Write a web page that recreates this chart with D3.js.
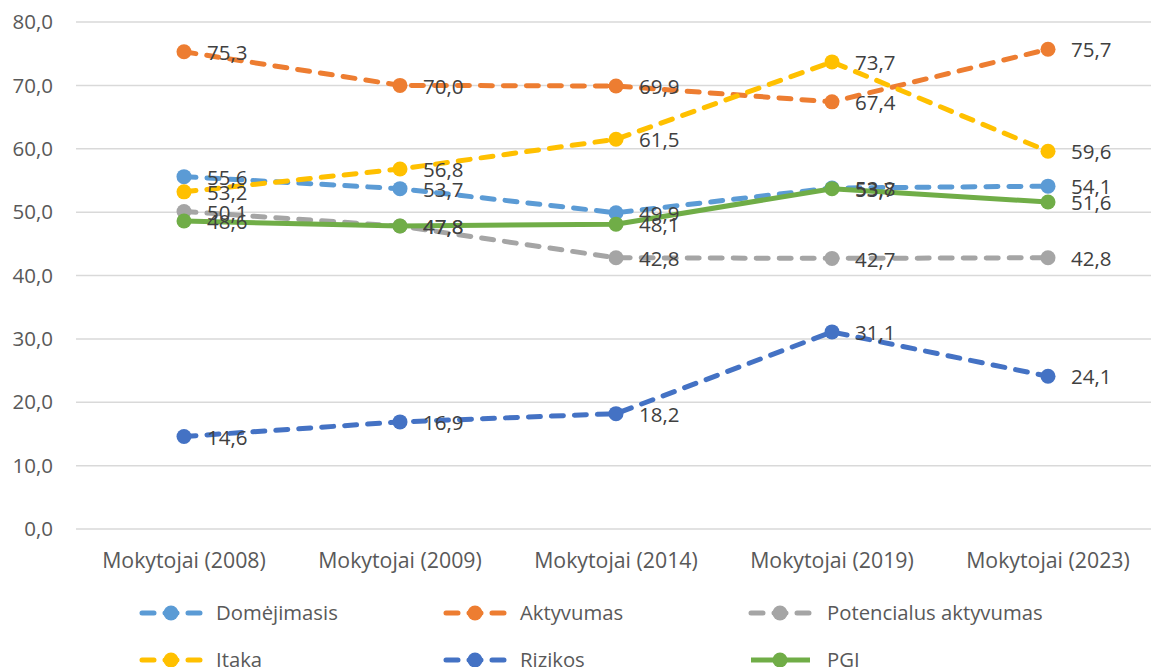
<!DOCTYPE html>
<html lang="lt">
<head>
<meta charset="utf-8">
<title>Mokytojai</title>
<script src="https://cdn.jsdelivr.net/npm/d3@7"></script>
<style>
  body { margin: 0; background: #fff; }
  svg { display: block; font-family: "Open Sans", sans-serif; }
</style>
</head>
<body>
<div id="chart"></div>
<script>
// categories and series
var categories = ["Mokytojai (2008)", "Mokytojai (2009)", "Mokytojai (2014)", "Mokytojai (2019)", "Mokytojai (2023)"];
var seriesNames = ["Domėjimasis", "Aktyvumas", "Potencialus aktyvumas", "Įtaka", "Rizikos", "PGI"];
var domejimasis = [55.6, 53.7, 49.9, 53.8, 54.1];
var aktyvumas = [75.3, 70.0, 69.9, 67.4, 75.7];
var potencialus = [50.1, 47.8, 42.8, 42.7, 42.8];
var itaka = [53.2, 56.8, 61.5, 73.7, 59.6];
var rizikos = [14.6, 16.9, 18.2, 31.1, 24.1];
var pgi = [48.6, 47.8, 48.1, 53.7, 51.6];
var yTicks = [0, 10, 20, 30, 40, 50, 60, 70, 80];

var colors = ["#5B9BD5", "#ED7D31", "#A5A5A5", "#FFC000", "#4472C4", "#70AD47"];
var dashed = [true, true, true, true, true, false];
var allValues = [domejimasis, aktyvumas, potencialus, itaka, rizikos, pgi];

var series = seriesNames.map(function(n, i) {
  return { name: n, values: allValues[i], color: colors[i], dashed: dashed[i] };
});

var W = 1151, H = 667;
var svg = d3.select("#chart").append("svg").attr("width", W).attr("height", H);

var x = d3.scaleBand().domain(categories).range([76, 1156]);
var y = d3.scaleLinear().domain([0, 80]).range([529, 22]);

var fmt = function(v) { return d3.format(".1f")(v).replace(".", ","); };

// gridlines
svg.append("g").selectAll("line").data(yTicks).join("line")
  .attr("x1", 76).attr("x2", W)
  .attr("y1", function(d) { return y(d); }).attr("y2", function(d) { return y(d); })
  .attr("stroke", "#d9d9d9").attr("stroke-width", 1.5);

// y axis labels
svg.append("g").selectAll("text").data(yTicks).join("text")
  .attr("x", 53).attr("y", function(d) { return y(d); })
  .attr("dy", "0.35em").attr("text-anchor", "end")
  .attr("font-size", 20.5).attr("fill", "#595959")
  .text(fmt);

// x axis labels
svg.append("g").selectAll("text").data(categories).join("text")
  .attr("x", function(d) { return x(d) + x.bandwidth() / 2; })
  .attr("y", 561).attr("dy", "0.35em").attr("text-anchor", "middle")
  .attr("font-size", 21.3).attr("fill", "#595959")
  .text(function(d) { return d; });

var line = d3.line()
  .x(function(d, i) { return x(categories[i]) + x.bandwidth() / 2; })
  .y(function(d) { return y(d); });

var g = svg.append("g");
series.forEach(function(s) {
  g.append("path").datum(s.values)
    .attr("d", line).attr("fill", "none")
    .attr("stroke", s.color).attr("stroke-width", 5)
    .attr("stroke-linecap", "round").attr("stroke-linejoin", "round")
    .attr("stroke-dasharray", s.dashed ? "12,11" : null);
  g.selectAll(null).data(s.values).join("circle")
    .attr("cx", function(d, i) { return x(categories[i]) + x.bandwidth() / 2; })
    .attr("cy", function(d) { return y(d); })
    .attr("r", 7.5).attr("fill", s.color);
});

// data labels
series.forEach(function(s) {
  svg.append("g").selectAll("text").data(s.values).join("text")
    .attr("x", function(d, i) { return x(categories[i]) + x.bandwidth() / 2 + 23; })
    .attr("y", function(d) { return y(d) + 1; })
    .attr("dy", "0.35em").attr("font-size", 20.5).attr("fill", "#404040")
    .text(fmt);
});

// legend
var legX = [139, 443, 748];
var legY = [613, 660];
var leg = svg.append("g").selectAll("g").data(series).join("g")
  .attr("transform", function(d, i) { return "translate(" + legX[i % 3] + "," + legY[Math.floor(i / 3)] + ")"; });
leg.append("line")
  .attr("x1", 3).attr("x2", 62).attr("y1", 0).attr("y2", 0)
  .attr("stroke", function(d) { return d.color; }).attr("stroke-width", 5)
  .attr("stroke-linecap", function(d) { return d.dashed ? "round" : "butt"; })
  .attr("stroke-dasharray", function(d) { return d.dashed ? "12,11" : null; });
leg.append("circle").attr("cx", 32).attr("cy", 0).attr("r", 7.5)
  .attr("fill", function(d) { return d.color; });
leg.append("text")
  .attr("x", function(d, i) { return i % 3 === 2 ? 79 : 77; }).attr("y", 0).attr("dy", "0.35em")
  .attr("font-size", 20.3).attr("fill", "#595959")
  .text(function(d) { return d.name; });
</script>
</body>
</html>
